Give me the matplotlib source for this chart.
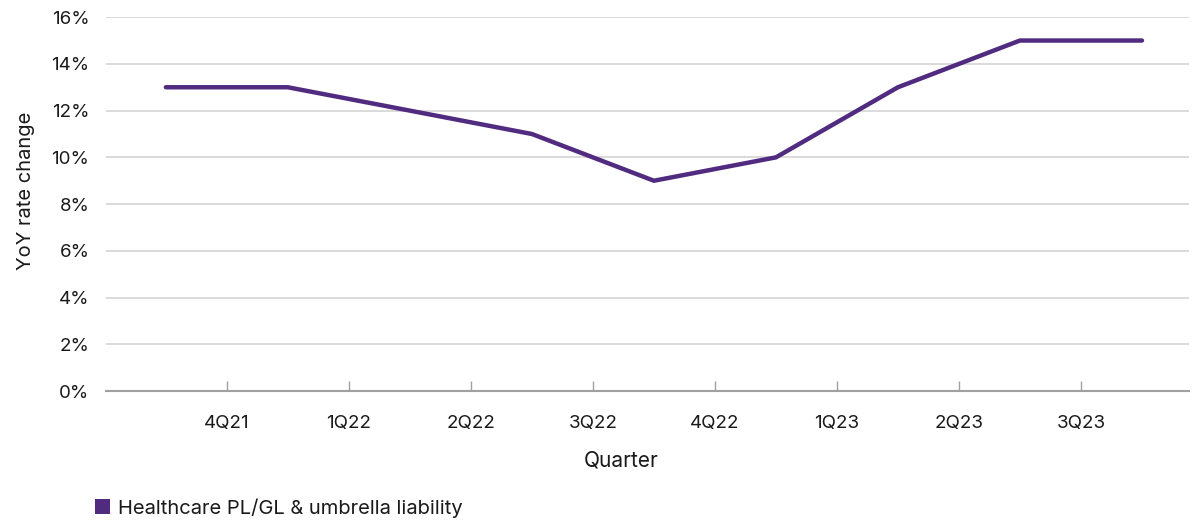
import matplotlib.pyplot as plt
from matplotlib.patches import Patch
from matplotlib.ticker import FuncFormatter

plt.rcParams['font.family'] = ['Inter', 'DejaVu Sans']

# YoY rate change at each point along the quarter axis
rate_change = [13, 13, 12, 11, 9, 10, 13, 15, 15]
quarters = ['4Q21', '1Q22', '2Q22', '3Q22', '4Q22', '1Q23', '2Q23', '3Q23']
series_name = 'Healthcare PL/GL & umbrella liability'
purple = '#512b7f'
ink = '#1a1a1a'

fig = plt.figure(figsize=(11.93, 5.2), dpi=100)
ax = fig.add_axes([0.0889, 0.248, 0.9077, 0.719])

x = list(range(len(rate_change)))
ax.plot(x, rate_change, color=purple, lw=3.2, solid_capstyle='round',
        solid_joinstyle='miter', zorder=3)

ax.set_ylim(0, 16)
ax.set_yticks(range(0, 17, 2))
ax.yaxis.set_major_formatter(FuncFormatter(lambda v, p: f'{v:.0f}%'))
ax.set_xlim(-0.49, 8.385)
ax.set_xticks([i + 0.5 for i in range(len(quarters))])
ax.set_xticklabels(quarters)

ax.grid(axis='y', color='#d4d4d4', lw=1.2)
ax.set_axisbelow(True)
for s in ['top', 'right', 'left']:
    ax.spines[s].set_visible(False)
ax.spines['bottom'].set_color('#a0a0a0')
ax.spines['bottom'].set_linewidth(1.5)
ax.tick_params(axis='x', direction='in', length=7, width=1, color='#a0a0a0',
               pad=17, labelsize=13.5, labelcolor=ink)
ax.tick_params(axis='y', length=0, pad=12, labelsize=13.5, labelcolor=ink)

ax.set_xlabel('Quarter', fontsize=15, color=ink)
ax.set_ylabel('YoY rate change', fontsize=14.5, color=ink)
ax.xaxis.set_label_coords(0.476, -0.16)
ax.yaxis.set_label_coords(-0.066, 0.535)

fig.legend(handles=[Patch(facecolor=purple, label=series_name)],
           loc='center left', bbox_to_anchor=(0.0796, 0.023), frameon=False,
           borderpad=0, borderaxespad=0,
           fontsize=14.5, handlelength=0.75, handleheight=0.75, handletextpad=0.4,
           labelcolor=ink)

fig.savefig('out.png', dpi=100)
